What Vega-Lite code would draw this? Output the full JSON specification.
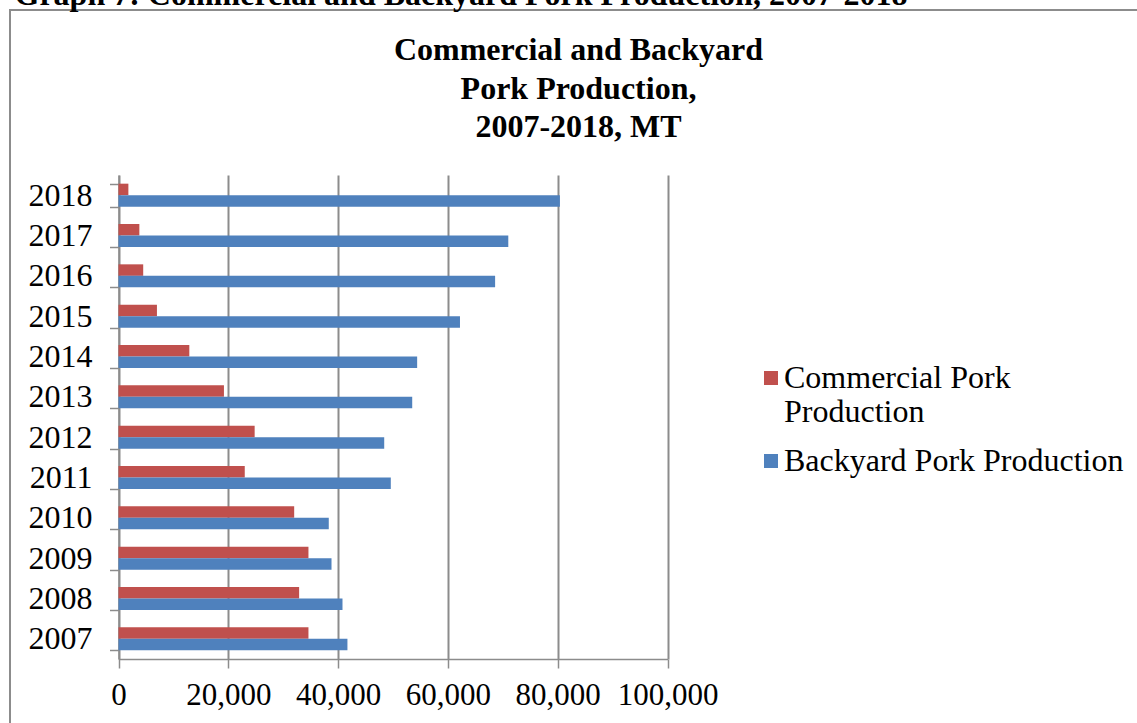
{
  "$schema": "https://vega.github.io/schema/vega-lite/v6.json",
  "autosize": {"type": "none"},
  "padding": {"left": 10, "top": 10, "right": -10, "bottom": -10},
  "width": 1137,
  "height": 723,
  "background": "white",
  "title": {
    "text": ["Commercial and Backyard", "Pork Production,", "2007-2018, MT"],
    "font": "Liberation Serif",
    "fontSize": 32,
    "fontWeight": "bold",
    "lineHeight": 38.5,
    "anchor": "middle",
    "frame": "group",
    "offset": -166,
    "color": "black"
  },
  "data": {
    "values": [
      {"year": "2018", "series": "Commercial Pork Production", "value": 1800},
      {"year": "2018", "series": "Backyard Pork Production", "value": 80400},
      {"year": "2017", "series": "Commercial Pork Production", "value": 3800},
      {"year": "2017", "series": "Backyard Pork Production", "value": 71000},
      {"year": "2016", "series": "Commercial Pork Production", "value": 4500},
      {"year": "2016", "series": "Backyard Pork Production", "value": 68600},
      {"year": "2015", "series": "Commercial Pork Production", "value": 7000},
      {"year": "2015", "series": "Backyard Pork Production", "value": 62200},
      {"year": "2014", "series": "Commercial Pork Production", "value": 12900},
      {"year": "2014", "series": "Backyard Pork Production", "value": 54400},
      {"year": "2013", "series": "Commercial Pork Production", "value": 19200},
      {"year": "2013", "series": "Backyard Pork Production", "value": 53500},
      {"year": "2012", "series": "Commercial Pork Production", "value": 24800},
      {"year": "2012", "series": "Backyard Pork Production", "value": 48400},
      {"year": "2011", "series": "Commercial Pork Production", "value": 23000},
      {"year": "2011", "series": "Backyard Pork Production", "value": 49600},
      {"year": "2010", "series": "Commercial Pork Production", "value": 32000},
      {"year": "2010", "series": "Backyard Pork Production", "value": 38300},
      {"year": "2009", "series": "Commercial Pork Production", "value": 34600},
      {"year": "2009", "series": "Backyard Pork Production", "value": 38800},
      {"year": "2008", "series": "Commercial Pork Production", "value": 32900},
      {"year": "2008", "series": "Backyard Pork Production", "value": 40800},
      {"year": "2007", "series": "Commercial Pork Production", "value": 34600},
      {"year": "2007", "series": "Backyard Pork Production", "value": 41700}
    ]
  },
  "layer": [
    {
      "mark": {"type": "bar"},
      "encoding": {
        "y": {
          "field": "year",
          "type": "nominal",
          "sort": "descending",
          "scale": {"range": [165, 649], "paddingInner": 0.43, "paddingOuter": 0.215},
          "axis": {
            "title": null,
            "tickBand": "extent",
            "tickSize": 9,
            "tickColor": "#8c8c8c",
            "tickWidth": 1.5,
            "domainColor": "#8c8c8c",
            "domainWidth": 1.5,
            "offset": -108.5,
            "labelFont": "Liberation Serif",
            "labelFontSize": 32,
            "labelColor": "black",
            "labelPadding": 17.5,
            "grid": false
          }
        },
        "x": {
          "field": "value",
          "type": "quantitative",
          "scale": {"domain": [0, 100000], "range": [108.5, 657.5], "nice": false},
          "axis": {
            "orient": "bottom",
            "offset": -74,
            "values": [0, 20000, 40000, 60000, 80000, 100000],
            "format": ",.0f",
            "labelOverlap": false,
            "labelBound": false,
            "labelFlush": false,
            "grid": false,
            "tickSize": 9,
            "tickColor": "#8c8c8c",
            "tickWidth": 1.5,
            "domainColor": "#8c8c8c",
            "domainWidth": 1.5,
            "labelFont": "Liberation Serif",
            "labelFontSize": 31,
            "labelColor": "black",
            "labelPadding": 12,
            "title": "Graph 7: Commercial and Backyard Pork Production, 2007-2018",
            "titleFont": "Liberation Serif",
            "titleFontSize": 32,
            "titleFontWeight": "bold",
            "titleColor": "black",
            "titleAlign": "left",
            "titleBaseline": "alphabetic",
            "titleX": 4,
            "titleY": -655
          }
        },
        "yOffset": {
          "field": "series",
          "type": "nominal",
          "scale": {"domain": ["Commercial Pork Production", "Backyard Pork Production"], "paddingInner": 0, "paddingOuter": 0}
        },
        "color": {
          "field": "series",
          "type": "nominal",
          "scale": {"domain": ["Commercial Pork Production", "Backyard Pork Production"], "range": ["#C0504D", "#4F81BD"]},
          "legend": {
            "title": null,
            "orient": "none",
            "legendX": 745,
            "legendY": 352,
            "symbolType": "square",
            "symbolSize": 196,
            "symbolStrokeWidth": 0,
            "labelFont": "Liberation Serif",
            "labelFontSize": 32,
            "labelColor": "black",
            "labelLimit": 0,
            "labelOffset": -3,
            "labelBaseline": "top",
            "rowPadding": 17,
            "labelExpr": "datum.label == 'Commercial Pork Production' ? ['Commercial Pork', 'Production'] : datum.label",
            "encode": {"labels": {"update": {"dy": {"value": -15}}}}
          }
        }
      }
    },
    {
      "data": {"values": [{"grid": 0}]},
      "mark": {"type": "rule", "opacity": 0},
      "encoding": {
        "x": {
          "field": "grid",
          "type": "quantitative",
          "axis": {
            "orient": "bottom",
            "offset": -74,
            "values": [0, 20000, 40000, 60000, 80000, 100000],
            "labels": false,
            "domain": false,
            "grid": false,
            "tickSize": -484,
            "tickColor": "#8c8c8c",
            "tickWidth": 2,
            "title": null
          }
        }
      }
    }
  ],
  "resolve": {"axis": {"x": "independent"}},
  "config": {
    "view": {"stroke": "#8c8c8c", "strokeWidth": 2},
    "font": "Liberation Serif"
  }
}
